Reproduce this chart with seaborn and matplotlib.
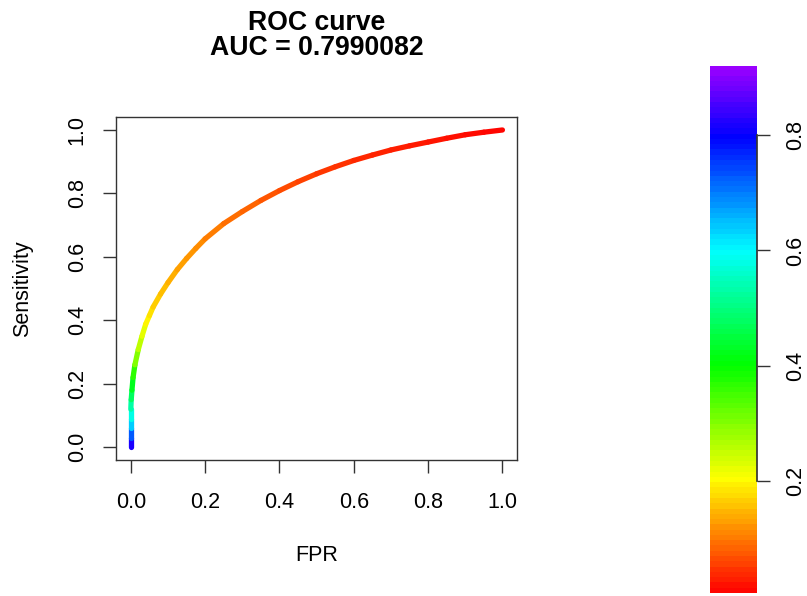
import colorsys
import numpy as np
import pandas as pd
import matplotlib
matplotlib.use('agg')
import matplotlib.pyplot as plt
import seaborn as sns
from matplotlib.collections import LineCollection
from matplotlib.colors import ListedColormap, Normalize

# ROC curve: FPR, TPR and the cutoff used to colour it
fpr = [0.000, 0.000, 0.000, 0.000, 0.000, 0.001, 0.003, 0.006, 0.011, 0.020,
       0.030, 0.040, 0.050, 0.060, 0.080, 0.100, 0.125, 0.150, 0.175, 0.200,
       0.250, 0.300, 0.350, 0.400, 0.450, 0.500, 0.550, 0.600, 0.650, 0.700,
       0.750, 0.800, 0.850, 0.900, 0.950, 1.000]
tpr = [0.000, 0.030, 0.060, 0.090, 0.120, 0.150, 0.180, 0.220, 0.260, 0.308,
       0.350, 0.388, 0.415, 0.442, 0.483, 0.519, 0.560, 0.595, 0.627, 0.657,
       0.705, 0.743, 0.778, 0.809, 0.837, 0.862, 0.884, 0.904, 0.921, 0.937,
       0.950, 0.962, 0.974, 0.985, 0.993, 1.000]
cutoff = [0.86, 0.78, 0.68, 0.60, 0.56, 0.50, 0.45, 0.40, 0.33, 0.27,
          0.235, 0.205, 0.185, 0.17, 0.155, 0.145, 0.132, 0.122, 0.114, 0.107,
          0.094, 0.083, 0.074, 0.065, 0.057, 0.050, 0.043, 0.037, 0.032, 0.027,
          0.022, 0.018, 0.014, 0.011, 0.008, 0.006]
auc = "0.7990082"
ticks = [0.0, 0.2, 0.4, 0.6, 0.8, 1.0]
cbar_ticks = [0.2, 0.4, 0.6, 0.8]
cbar_range = (0.006, 0.92)

df = pd.DataFrame({"fpr": fpr, "tpr": tpr, "cutoff": cutoff})

sns.set_theme(style="white")
plt.rcParams['font.family'] = ['Liberation Sans', 'DejaVu Sans']
plt.rcParams['text.color'] = 'black'
plt.rcParams['axes.labelcolor'] = 'black'
plt.rcParams['xtick.color'] = 'black'
plt.rcParams['ytick.color'] = 'black'

# R style rainbow: hue runs red -> magenta (5/6 of the circle) over 0..1
rainbow = ListedColormap([colorsys.hsv_to_rgb(h * 5 / 6, 1, 1) for h in np.linspace(0, 1, 256)])
norm = Normalize(0, 1)

fig = plt.figure(figsize=(8.07, 5.96), dpi=100)
ax = fig.add_axes([0.1437, 0.2282, 0.4973, 0.575])

pts = df[["fpr", "tpr"]].to_numpy()
segs = np.stack([pts[:-1], pts[1:]], axis=1)
seg_cut = (df["cutoff"].to_numpy()[:-1] + df["cutoff"].to_numpy()[1:]) / 2
lc = LineCollection(segs, cmap=rainbow, norm=norm, linewidths=3.8, capstyle='round', joinstyle='round')
lc.set_array(seg_cut)
ax.add_collection(lc)

ax.set_xlim(-0.04, 1.04)
ax.set_ylim(-0.04, 1.04)
ax.set_xticks(ticks)
ax.set_yticks(ticks)
ax.set_xticklabels([f"{t:.1f}" for t in ticks])
ax.set_yticklabels([f"{t:.1f}" for t in ticks], rotation=90, va='center')
for s in ax.spines.values():
    s.set_color('#333333')
    s.set_linewidth(1.0)
ax.tick_params(direction='out', length=9.4, width=1.0, color='#333333',
               labelsize=15.5, bottom=True, left=True)
ax.tick_params(axis='x', pad=14)
ax.tick_params(axis='y', pad=11)
ax.set_xlabel("FPR", fontsize=15.5, labelpad=23)
ax.set_ylabel("Sensitivity", fontsize=15.5, labelpad=24)

fig.text(0.3923, 1 - 23 / 596, "ROC curve", ha='center', va='center', fontsize=19.2, fontweight='bold')
fig.text(0.3923, 1 - 48 / 596, f"AUC = {auc}", ha='center', va='center', fontsize=19.2, fontweight='bold')

# colour key
cax = fig.add_axes([0.8798, 0.005, 0.0582, 0.8843])
lo, hi = cbar_range
cax.imshow(np.linspace(lo, hi, 100)[:, None], origin='lower', extent=[0, 1, lo, hi],
           cmap=rainbow, norm=norm, aspect='auto', interpolation='nearest')
cax.set_xlim(0, 1)
cax.set_ylim(lo, hi)
cax.set_xticks([])
cax.set_yticks(cbar_ticks)
cax.set_yticklabels([f"{t:.1f}" for t in cbar_ticks], rotation=90, va='center')
cax.yaxis.tick_right()
for k in ['top', 'left', 'bottom']:
    cax.spines[k].set_visible(False)
cax.spines['right'].set_bounds(0.2, 0.8)
cax.spines['right'].set_color('#333333')
cax.tick_params(axis='y', direction='out', length=9.4, width=1.0, color='#333333',
                labelsize=15.5, pad=11, right=True)

fig.savefig("out.png", dpi=100)
